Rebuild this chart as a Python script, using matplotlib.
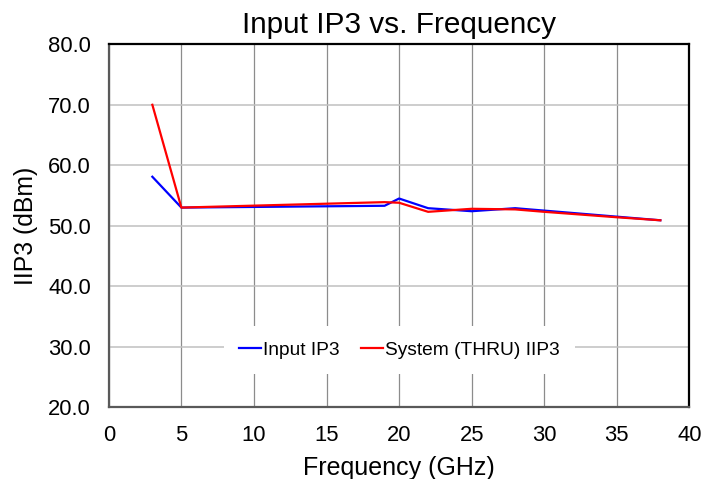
import matplotlib.pyplot as plt

plt.rcParams['font.family'] = ['Liberation Sans', 'DejaVu Sans']

# Dữ liệu
freq = [3, 5, 19, 20, 22, 25, 28, 30, 35, 38]
input_ip3 = [58.1, 53.0, 53.3, 54.5, 52.9, 52.4, 52.9, 52.5, 51.5, 50.9]
system_iip3 = [70.0, 53.0, 53.9, 53.8, 52.3, 52.8, 52.7, 52.3, 51.4, 50.9]

fig = plt.figure(figsize=(7.02, 4.79), dpi=100)
ax = fig.add_axes([0.155, 0.150, 0.827, 0.7575])

ax.plot(freq, input_ip3, color='#0000ff', lw=1.6, label='Input IP3')
ax.plot(freq, system_iip3, color='#ff0000', lw=1.6, label='System (THRU) IIP3')

ax.set_xlim(0, 40)
ax.set_ylim(20, 80)
ax.set_xticks(range(0, 41, 5))
ax.set_yticks(range(20, 81, 10))
ax.set_yticklabels([f'{v:.1f}' for v in range(20, 81, 10)])
ax.tick_params(length=0, labelsize=15.8, pad=13)

# lưới: ngang nhạt, dọc đậm hơn
ax.yaxis.grid(True, color='#c0c0c0', lw=1.1)
ax.xaxis.grid(True, color='#8c8c8c', lw=0.9)
ax.set_axisbelow(True)

for s in ['left', 'bottom']:
    ax.spines[s].set_color('#595959')
    ax.spines[s].set_linewidth(1.6)
for s in ['top', 'right']:
    ax.spines[s].set_color('black')
    ax.spines[s].set_linewidth(1.6)

ax.set_title('Input IP3 vs. Frequency', fontsize=21.4, pad=8.5)
ax.set_xlabel('Frequency (GHz)', fontsize=18, labelpad=7)
ax.set_ylabel('IIP3 (dBm)', fontsize=17.8, labelpad=7)

leg = ax.legend(loc='center', bbox_to_anchor=(0.5, 0.158), ncol=2, frameon=True,
                fontsize=13.8, handlelength=1.15, handletextpad=0.1,
                columnspacing=1.1, borderpad=0.6, borderaxespad=0)
leg.get_frame().set_facecolor('white')
leg.get_frame().set_edgecolor('none')
leg.get_frame().set_alpha(1)
leg.get_frame().set_boxstyle('square', pad=0.2)

plt.savefig('out.png', dpi=100)
